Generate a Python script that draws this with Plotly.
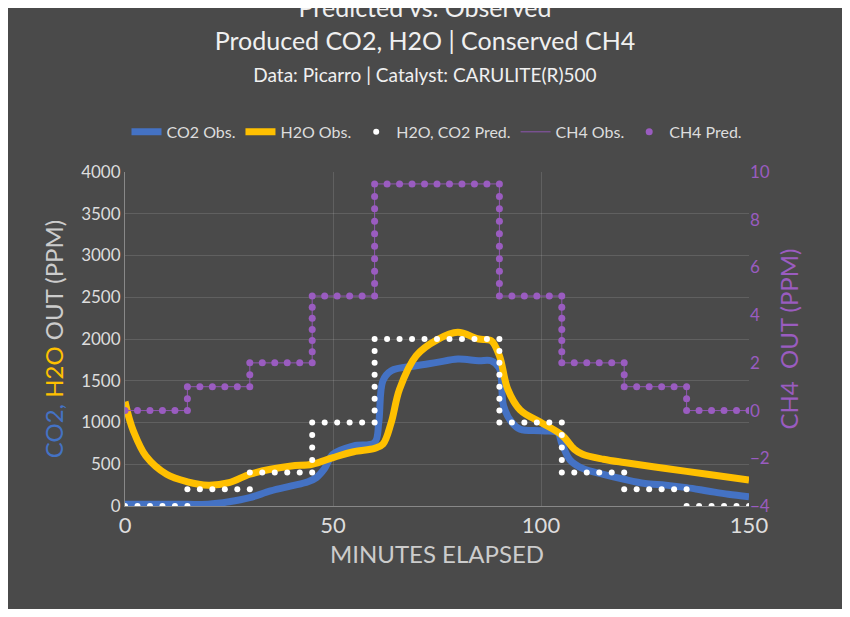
import plotly.graph_objects as go
import numpy as np

co2_t = [0,5,10,15,20,25,30,35,40,44,46,48,50,55,60,61,62,64,70,75,80,85,88,90,91,93,95,100,104,105,107,110,115,120,125,130,135,140,145,150]
co2_v = [20,20,20,20,20,50,100,180,240,290,340,450,620,720,760,1000,1500,1620,1680,1720,1760,1740,1740,1650,1200,1000,920,900,880,750,550,450,380,320,270,250,220,180,140,110]
h2o_t = [0,1,2,5,10,15,20,25,30,35,40,45,50,55,60,62,64,66,70,75,80,85,88,90,92,95,100,105,108,110,115,120,130,140,150]
h2o_v = [1250,1050,900,600,380,290,250,280,380,440,480,500,580,650,690,740,1000,1400,1800,1990,2080,2000,1980,1800,1400,1150,1000,850,680,620,560,520,450,380,310]

# Predicted step levels
step_edges = [0,15,30,45,60,90,105,120,135,150]
pred_levels = [0,200,400,1000,2000,1000,400,200,0]
ch4_levels = [0,1,2,4.8,9.5,4.8,2,1,0]

def step_points(edges, levels, dt=3.0, dv=None):
    xs, ys = [], []
    for i, lv in enumerate(levels):
        a, b = edges[i], edges[i+1]
        n = int(round((b - a) / dt))
        for k in range(n):
            xs.append(a + k * (b - a) / n); ys.append(lv)
        if i + 1 < len(levels):
            nxt = levels[i+1]
            m = max(1, int(round(abs(nxt - lv) / dv)))
            for k in range(m):
                xs.append(b); ys.append(lv + (nxt - lv) * k / m)
    xs.append(edges[-1]); ys.append(levels[-1])
    return xs, ys

px_, py_ = step_points(step_edges, pred_levels, dv=150)
cx_, cy_ = step_points(step_edges, ch4_levels, dv=0.5)

fig = go.Figure()
fig.add_trace(go.Scatter(x=co2_t, y=co2_v, mode="lines", name="CO2 Obs.",
                         line=dict(color="#4472C4", width=7, shape="spline")))
fig.add_trace(go.Scatter(x=h2o_t, y=h2o_v, mode="lines", name="H2O Obs.",
                         line=dict(color="#FFC000", width=7, shape="spline")))
fig.add_trace(go.Scatter(x=px_, y=py_, mode="markers", name="H2O, CO2 Pred.",
                         marker=dict(color="white", size=6)))
fig.add_trace(go.Scatter(x=step_edges, y=ch4_levels + [ch4_levels[-1]], mode="lines", name="CH4 Obs.",
                         line=dict(color="#8E55B0", width=1, shape="hv"), yaxis="y2"))
fig.add_trace(go.Scatter(x=cx_, y=cy_, mode="markers", name="CH4 Pred.",
                         marker=dict(color="#9A5CC0", size=7), yaxis="y2"))

grid = "rgba(255,255,255,0.12)"
fig.update_layout(
    width=834, height=601,
    paper_bgcolor="#4a4a4a", plot_bgcolor="#4a4a4a",
    font=dict(family="Lato, Liberation Sans, sans-serif", color="#dddddd"),
    margin=dict(l=117, r=93, t=164, b=103),
    title=dict(text="Predicted vs. Observed<br>Produced CO2, H2O | Conserved CH4<br><span style='font-size:19px'>Data: Picarro | Catalyst: CARULITE(R)500</span>",
               x=0.5, xanchor="center", y=0.985, yanchor="top", font=dict(size=25, color="#f0f0f0")),
    legend=dict(orientation="h", x=0.5, xanchor="center", y=1.12, yanchor="middle",
                font=dict(size=16, color="#dddddd"), bgcolor="rgba(0,0,0,0)", itemwidth=30,
                tracegroupgap=0),
    showlegend=True,
    xaxis=dict(range=[0,150], tickvals=[0,50,100,150], showgrid=True, gridcolor=grid,
               zeroline=False, showline=True, linecolor="#888", tickfont=dict(size=22, color="#dddddd"),
               title=dict(text="MINUTES ELAPSED", font=dict(size=24, color="#cccccc"), standoff=8)),
    yaxis=dict(range=[0,4000], dtick=500, showgrid=True, gridcolor=grid, zeroline=False,
               showline=True, linecolor="#888", tickfont=dict(size=17, color="#dddddd"),
               title=dict(text="<span style='color:#4472C4'>CO2,</span> <span style='color:#FFC000'>H2O</span> OUT (PPM)",
                          font=dict(size=24, color="#cccccc"), standoff=10)),
    yaxis2=dict(range=[-4,10], dtick=2, overlaying="y", side="right", showgrid=False, zeroline=False,
                tickfont=dict(size=17, color="#9A5CC0"),
                title=dict(text="CH4  OUT (PPM)", font=dict(size=24, color="#9A5CC0"), standoff=12)),
)
fig.write_html("out.html")
